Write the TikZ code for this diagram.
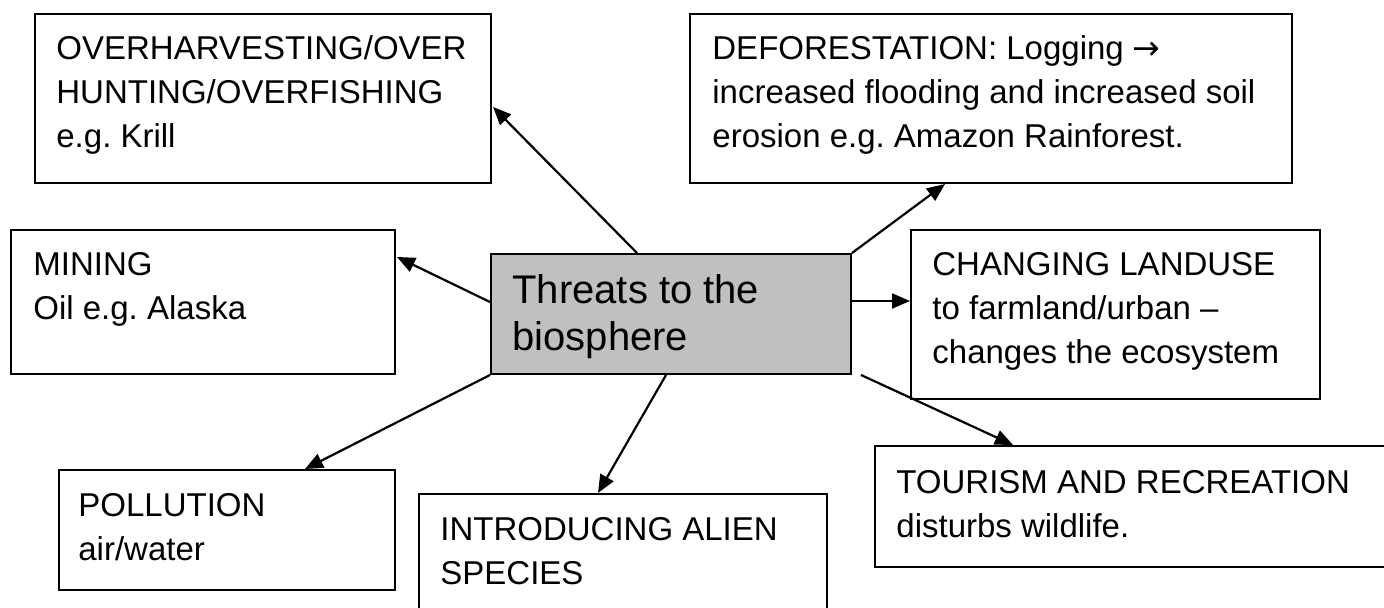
\documentclass[tikz,border=0pt]{standalone}
\usepackage{fontspec}
\setmainfont{Liberation Sans}
\newfontfamily\arrowfont{DejaVu Sans}
\usetikzlibrary{arrows.meta,calc}
\frenchspacing
\begin{document}
\begin{tikzpicture}[x=0.5pt,y=-0.5pt,
  box/.style={draw=black, line width=1pt, inner sep=0pt, anchor=north west, rectangle},
  hubbox/.style={box, fill={rgb,255:red,192;green,192;blue,192}},
  txt/.style={inner sep=0pt, anchor=north west, align=left, font=\fontsize{16.5pt}{22pt}\selectfont},
  hubtxt/.style={inner sep=0pt, anchor=north west, align=left, font=\fontsize{20pt}{23.5pt}\selectfont},
  conn/.style={line width=1.1pt, -{Triangle[length=9pt,width=7.5pt]}}]
\useasboundingbox (0,0) rectangle (1384,608);

% boxes
\node[box, minimum width=228pt, minimum height=84.5pt] (a) at (34,13) {};
\node[box, minimum width=301pt, minimum height=84.5pt] (b) at (689,13) {};
\node[box, minimum width=192pt, minimum height=72pt] (m) at (10,229) {};
\node[hubbox, minimum width=180pt, minimum height=60pt] (c) at (490,253) {};
\node[box, minimum width=204.5pt, minimum height=84.5pt] (d) at (910,229) {};
\node[box, minimum width=168pt, minimum height=60pt] (e) at (58,469) {};
\node[box, minimum width=204pt, minimum height=65pt] (f) at (418,493) {};
\node[box, minimum width=260pt, minimum height=60.5pt] (g) at (874,445) {};

% texts
\node[txt] (at) at ($(a.north west)+(22,15.2)$) {\strut OVERHARVESTING/OVER\\HUNTING/OVERFISHING\\e.g. Krill};
\node[txt] (bt) at ($(b.north west)+(23,15.2)$) {\strut DEFORESTATION: Logging {\arrowfont →}\\increased flooding and increased soil\\erosion e.g. Amazon Rainforest.};
\node[txt] (mt) at ($(m.north west)+(23,15.2)$) {\strut MINING\\Oil e.g. Alaska};
\node[hubtxt] (ct) at ($(c.north west)+(22,17.1)$) {\strut Threats to the\\biosphere};
\node[txt] (dt) at ($(d.north west)+(22,15.2)$) {\strut CHANGING LANDUSE\\to farmland/urban –\\changes the ecosystem};
\node[txt] (et) at ($(e.north west)+(20,16.2)$) {\strut POLLUTION\\air/water};
\node[txt] (ft) at ($(f.north west)+(22,16.2)$) {\strut INTRODUCING ALIEN\\SPECIES};
\node[txt] (gt) at ($(g.north west)+(22,17.2)$) {\strut TOURISM AND RECREATION\\disturbs wildlife.};

% connectors
\draw[conn] ($(c.north west)+(147,0)$) -- ($(a.north east)+(1,94)$);
\draw[conn] (c.north east) -- ($(b.south west)+(256,0)$);
\draw[conn] ($(c.north west)+(0,49)$) -- ($(m.north east)+(1,28)$);
\draw[conn] ($(c.north east)+(0,48)$) -- ($(d.north west)+(0,72)$);
\draw[conn] (c.south west) -- ($(e.north west)+(247,0)$);
\draw[conn] ($(c.south west)+(176,0)$) -- ($(f.north west)+(180,0)$);
\draw[conn] ($(c.south east)+(9,0)$) -- ($(g.north west)+(139,0)$);
\end{tikzpicture}
\end{document}
